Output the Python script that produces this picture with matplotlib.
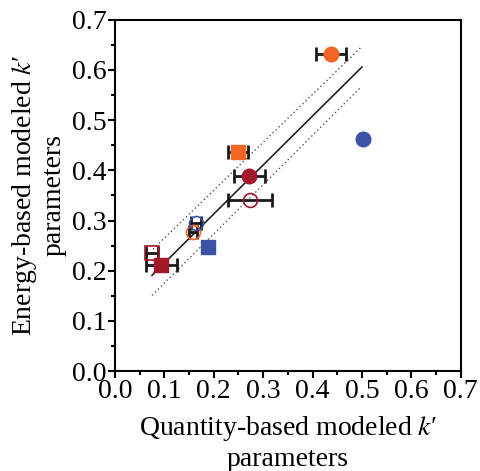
import matplotlib.pyplot as plt
from matplotlib.ticker import MultipleLocator

plt.rcParams['font.family'] = ['Liberation Serif', 'DejaVu Serif']
plt.rcParams['mathtext.fontset'] = 'stix'

# modeled k' values: quantity-based (x) vs energy-based (y), x error
orange_x = [0.437, 0.249, 0.158]
orange_y = [0.632, 0.437, 0.277]
orange_err = [0.030, 0.021, 0.009]
orange_marker = ['o', 's', 'o']
orange_fill = [True, True, False]

blue_x = [0.502, 0.189, 0.164]
blue_y = [0.462, 0.248, 0.295]
blue_err = [0.0, 0.0, 0.010]
blue_marker = ['o', 's', 'o']
blue_fill = [True, True, False]

red_x = [0.272, 0.273, 0.094, 0.075]
red_y = [0.388, 0.341, 0.211, 0.236]
red_err = [0.032, 0.044, 0.032, 0.012]
red_marker = ['o', 'o', 's', 's']
red_fill = [True, False, True, False]

# regression line and band
fit_x = [0.075, 0.500]
fit_y = [0.191, 0.606]
upper_x = [0.077, 0.499]
upper_y = [0.243, 0.646]
lower_x = [0.075, 0.498]
lower_y = [0.151, 0.566]

fig = plt.figure(figsize=(4.81, 4.71), dpi=100)
ax = fig.add_axes([0.239, 0.212, 0.719, 0.746])

ax.plot(fit_x, fit_y, color='#222222', lw=1.2, zorder=2)
ax.plot(upper_x, upper_y, color='#555555', lw=1.0, ls=(0, (1, 2)), zorder=2)
ax.plot(lower_x, lower_y, color='#555555', lw=1.0, ls=(0, (1, 2)), zorder=2)

groups = [
    (orange_x, orange_y, orange_err, orange_marker, orange_fill, '#F26522'),
    (blue_x, blue_y, blue_err, blue_marker, blue_fill, '#3A53A4'),
    (red_x, red_y, red_err, red_marker, red_fill, '#A3192A'),
]
for xs, ys, errs, markers, fills, col in groups:
    for x, y, e, m, f in zip(xs, ys, errs, markers, fills):
        if e > 0:
            ax.errorbar(x, y, xerr=e, fmt='none', ecolor='#1a1a1a',
                        elinewidth=2, capsize=5, capthick=2, zorder=3)
        if f:
            ax.plot(x, y, marker=m, ms=10.5, color=col, mec=col, ls='none', zorder=4)
        else:
            ax.plot(x, y, marker=m, ms=10, mfc='none', mec=col, mew=1.2,
                    ls='none', zorder=5)

ax.set_xlim(0, 0.7)
ax.set_ylim(0, 0.7)
ax.xaxis.set_major_locator(MultipleLocator(0.1))
ax.yaxis.set_major_locator(MultipleLocator(0.1))
ax.xaxis.set_minor_locator(MultipleLocator(0.05))
ax.yaxis.set_minor_locator(MultipleLocator(0.05))
ax.tick_params(which='major', direction='out', length=5, width=1.5, labelsize=20, pad=1)
ax.tick_params(which='minor', direction='out', length=3, width=1.5)
for s in ax.spines.values():
    s.set_linewidth(1.5)

ax.set_xlabel("Quantity-based modeled $k$′\nparameters", fontsize=20, labelpad=7,
              linespacing=1.2)
ax.set_ylabel("Energy-based modeled $k$′\nparameters", fontsize=20, labelpad=4,
              linespacing=1.15)

fig.savefig('out.png', dpi=100)
